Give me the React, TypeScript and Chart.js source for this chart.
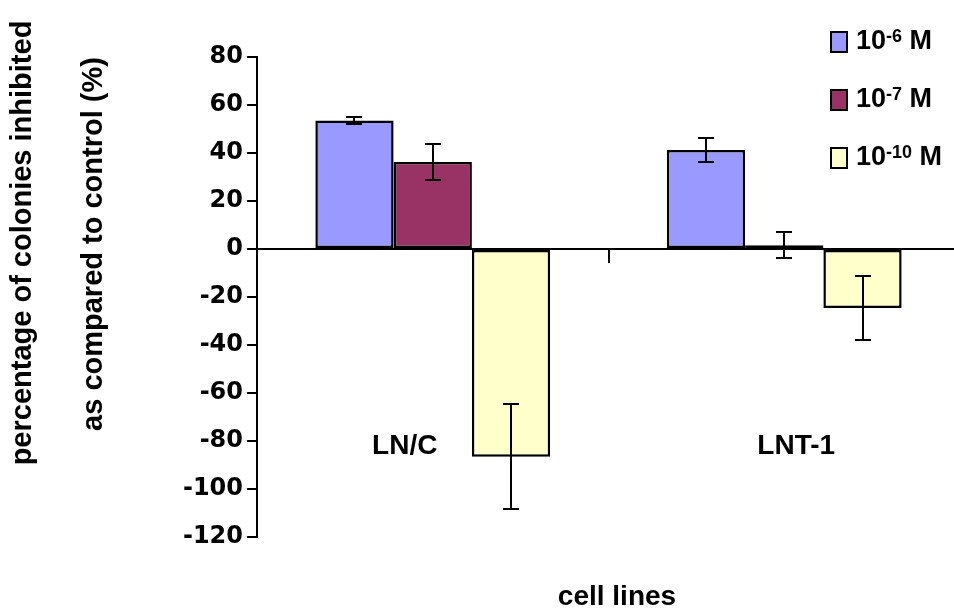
import { useEffect, useRef } from 'react';
import { Chart, registerables } from 'chart.js';

Chart.register(...registerables);

// Cell lines on the category axis
const cellLines = ['LN/C', 'LNT-1'];

// Concentration exponents (10^x M) for the three series
const concentrationExponents = ['-6', '-7', '-10'];

// Mean percentage of colonies inhibited, per cell line
const inhibitionE6 = [53.5, 41.2];
const inhibitionE7 = [36.3, 1.6];
const inhibitionE10 = [-86.6, -24.6];

// Error bar half-lengths, per cell line
const errorE6 = [1.3, 4.9];
const errorE7 = [7.4, 5.4];
const errorE10 = [21.9, 13.3];

// Value axis range
const yMin = -120;
const yMax = 80;
const yStep = 20;

const yTitleLines = ['percentage of colonies inhibited', 'as compared to control (%)'];
const xTitle = 'cell lines';

const seriesColors = ['#9999FF', '#993366', '#FFFFCC'];

const SANS = '"Liberation Sans", Arial, Helvetica, sans-serif';
const TICK_FONT = '"DejaVu Sans", "Liberation Sans", sans-serif';

const errorBarsPlugin = {
  id: 'errorBars',
  afterDatasetsDraw(chart: any) {
    const { ctx } = chart;
    const y = chart.scales.y;
    const cap = 8;
    ctx.save();
    ctx.strokeStyle = '#000';
    ctx.lineWidth = 2;
    chart.data.datasets.forEach((ds: any, i: number) => {
      const meta = chart.getDatasetMeta(i);
      meta.data.forEach((bar: any, j: number) => {
        const v = ds.data[j];
        const e = ds.errors[j];
        const top = Math.round(y.getPixelForValue(v + e));
        const bot = Math.round(y.getPixelForValue(v - e));
        const x = Math.round(bar.x);
        ctx.beginPath();
        ctx.moveTo(x, top);
        ctx.lineTo(x, bot);
        ctx.moveTo(x - cap, top);
        ctx.lineTo(x + cap, top);
        ctx.moveTo(x - cap, bot);
        ctx.lineTo(x + cap, bot);
        ctx.stroke();
      });
    });
    ctx.restore();
  },
};

// Axis titles, in-plot category names and the concentration legend
const labelsPlugin = {
  id: 'chartLabels',
  afterDraw(chart: any, _args: any, opts: any) {
    const { ctx } = chart;
    const xs = chart.scales.x;
    const ys = chart.scales.y;
    ctx.save();
    ctx.fillStyle = '#000';

    // y title, two rotated lines
    ctx.font = `bold 29px ${SANS}`;
    ctx.textAlign = 'center';
    ctx.textBaseline = 'middle';
    yTitleLines.forEach((line, i) => {
      const p = opts.yTitle[i];
      ctx.save();
      ctx.translate(p.x, p.y);
      ctx.rotate(-Math.PI / 2);
      ctx.fillText(line, 0, 0);
      ctx.restore();
    });

    // x title
    ctx.font = `bold 28px ${SANS}`;
    ctx.fillText(xTitle, opts.xTitle.x, opts.xTitle.y);

    // category names inside the plot
    ctx.font = `bold 28px ${SANS}`;
    cellLines.forEach((name, i) => {
      const cx = xs.getPixelForValue(i) + opts.categoryShift[i];
      const cy = ys.getPixelForValue(opts.categoryLabelValue);
      ctx.fillText(name, cx, cy);
    });

    // legend
    const lg = opts.legend;
    ctx.textAlign = 'left';
    ctx.textBaseline = 'alphabetic';
    chart.data.datasets.forEach((ds: any, i: number) => {
      const top = lg.top + i * lg.step;
      ctx.fillStyle = ds.backgroundColor;
      ctx.fillRect(lg.left, top, lg.boxW, lg.boxH);
      ctx.strokeStyle = '#000';
      ctx.lineWidth = 2;
      ctx.strokeRect(lg.left, top, lg.boxW, lg.boxH);

      ctx.fillStyle = '#000';
      const base = top + lg.baseline;
      let x = lg.textLeft;
      ctx.font = `bold 27px ${SANS}`;
      ctx.fillText('10', x, base);
      x += ctx.measureText('10').width;
      ctx.font = `bold 18px ${SANS}`;
      ctx.fillText(concentrationExponents[i], x, base - 7);
      x += ctx.measureText(concentrationExponents[i]).width;
      ctx.font = `bold 27px ${SANS}`;
      ctx.fillText(' M', x, base);
    });
    ctx.restore();
  },
};

export default function App() {
  const canvasRef = useRef<HTMLCanvasElement | null>(null);

  useEffect(() => {
    const canvas = canvasRef.current;
    if (!canvas) return;

    const series = [inhibitionE6, inhibitionE7, inhibitionE10];
    const errors = [errorE6, errorE7, errorE10];

    const chart = new Chart(canvas, {
      type: 'bar',
      data: {
        labels: cellLines,
        datasets: series.map((values, i) => ({
          label: `10^${concentrationExponents[i]} M`,
          data: values,
          errors: errors[i],
          backgroundColor: seriesColors[i],
          borderColor: '#000',
          borderWidth: 2.5,
          borderSkipped: false,
          categoryPercentage: 0.668,
          barPercentage: 1,
        })) as any,
      },
      options: {
        responsive: false,
        animation: false,
        devicePixelRatio: 1,
        events: [],
        layout: { padding: { top: 57, bottom: 75, left: 0, right: 0 } },
        plugins: {
          legend: { display: false },
          tooltip: { enabled: false },
          chartLabels: {
            yTitle: [
              { x: 23, y: 243 },
              { x: 94, y: 244 },
            ],
            xTitle: { x: 617, y: 597 },
            categoryShift: [-28, 12],
            categoryLabelValue: -82,
            legend: { left: 831, top: 32, step: 58, boxW: 16, boxH: 20, textLeft: 856, baseline: 17 },
          },
        } as any,
        scales: {
          x: {
            type: 'category',
            position: { y: 0 } as any,
            offset: true,
            grid: {
              offset: true,
              drawOnChartArea: false,
              drawTicks: true,
              tickLength: 13,
              color: '#000',
              lineWidth: 2,
            },
            border: { display: true, color: '#000', width: 2, z: 1 },
            ticks: { display: false },
          },
          y: {
            min: yMin,
            max: yMax,
            ticks: {
              stepSize: yStep,
              color: '#000',
              padding: 4,
              font: { family: TICK_FONT, size: 24, weight: 'bold' },
            },
            grid: {
              drawOnChartArea: false,
              drawTicks: true,
              tickLength: 10,
              color: '#000',
              lineWidth: 2,
            },
            border: { display: true, color: '#000', width: 2 },
            afterFit: (scale: any) => {
              scale.width = 257;
            },
          },
        },
      },
      plugins: [errorBarsPlugin, labelsPlugin],
    });

    return () => chart.destroy();
  }, []);

  return (
    <div
      style={{
        position: 'absolute',
        left: 0,
        top: 0,
        width: 954,
        height: 612,
        overflow: 'hidden',
        background: '#fff',
      }}
    >
      <canvas ref={canvasRef} width={960} height={612} style={{ display: 'block' }} />
    </div>
  );
}
